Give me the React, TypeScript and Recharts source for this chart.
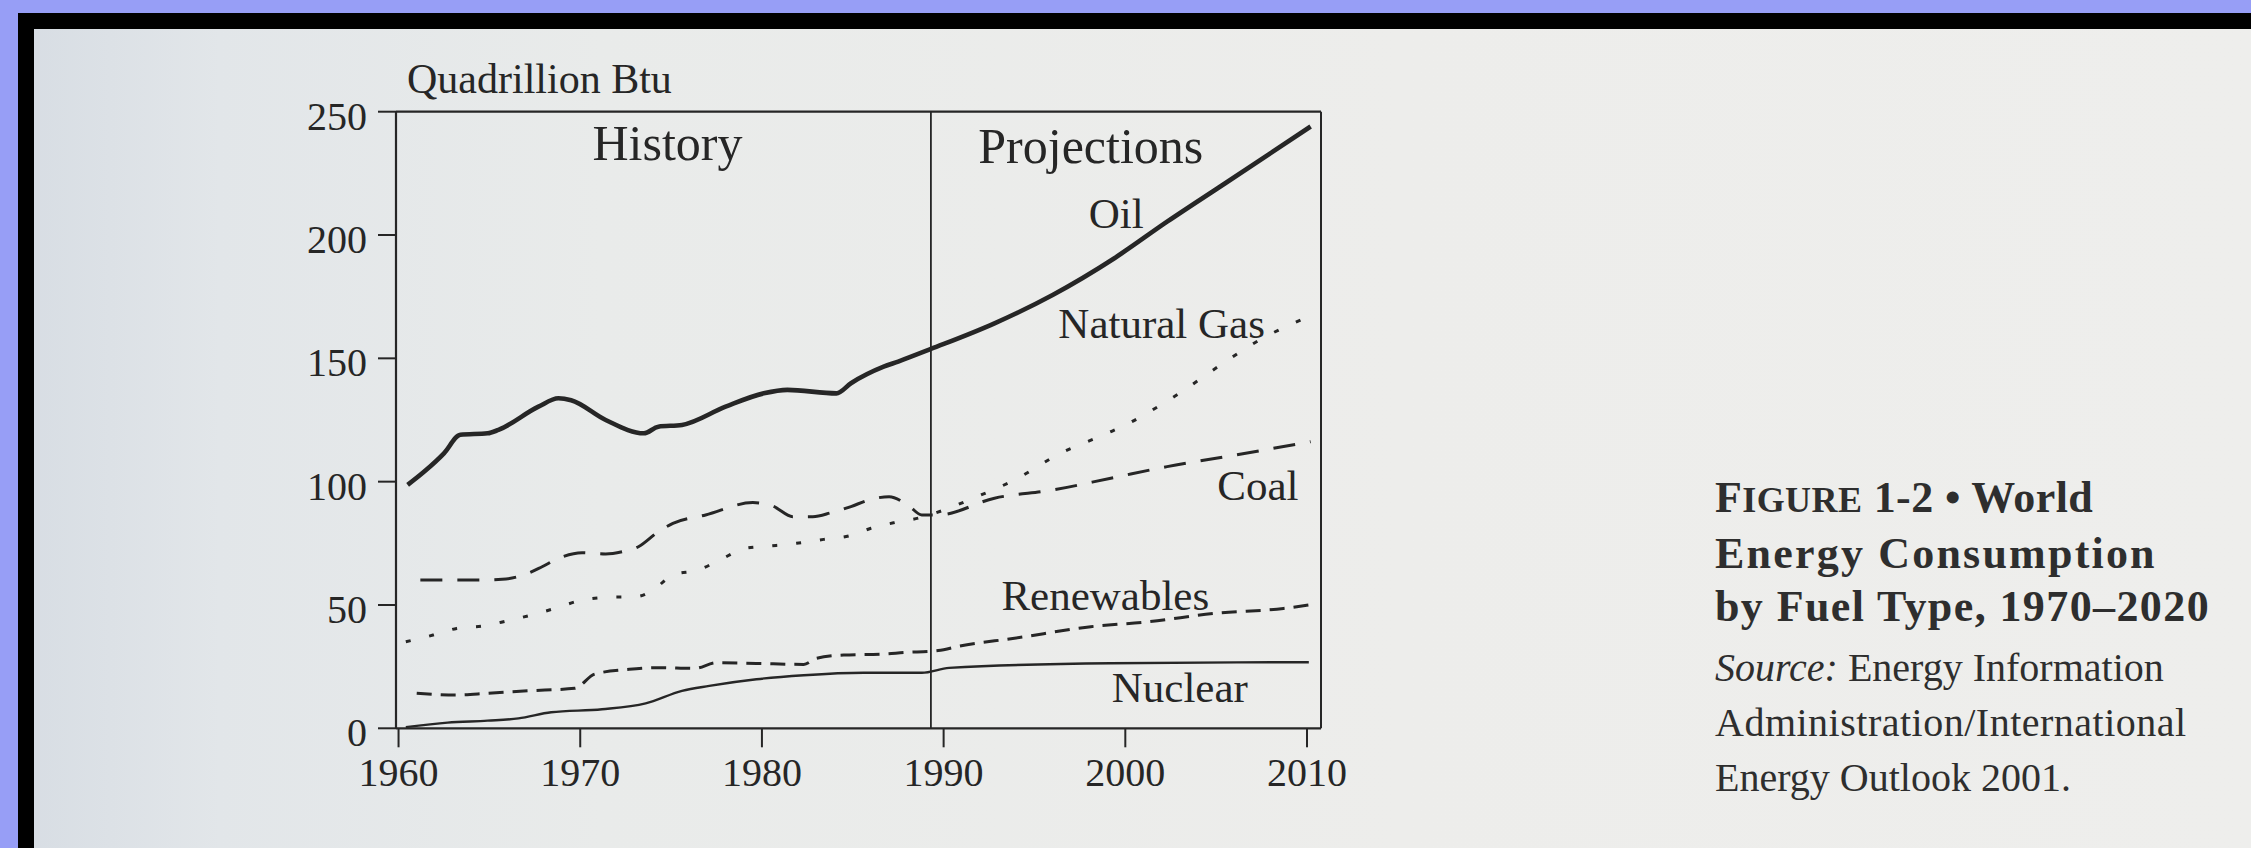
import React from 'react';
import { LineChart, Line, XAxis, YAxis, ReferenceLine, ReferenceDot } from 'recharts';

const SERIF = '"Liberation Serif", "Times New Roman", serif';
const INK = '#262626';

// axes
const YEAR_TICKS = [1960, 1970, 1980, 1990, 2000, 2010];
const VALUE_TICKS = [0, 50, 100, 150, 200, 250];
const YEAR_DOMAIN = [1959.86, 2010.77];
const VALUE_MAX = 250;
const SPLIT_YEAR = 1989.3; // history | projections

// [year, quadrillion Btu]
const OIL = [
  [1960.5, 98.7], [1961.4, 104], [1962.5, 111.5], [1963.4, 119], [1964.9, 119.6],
  [1965.5, 121], [1967.7, 130.4], [1968.8, 133.8], [1969.5, 133], [1971.4, 125],
  [1973.5, 119.6], [1974.3, 122.3], [1975.6, 123], [1978, 130.4], [1980.1, 135.8],
  [1981.4, 137.2], [1984.1, 135.8], [1984.9, 139.9], [1986.7, 146.6], [1987.5, 148.7],
  [1989.3, 153.8], [1992.8, 164.2], [1996, 175.7], [1999.4, 190.6], [2002.3, 205.4],
  [2005.5, 221], [2010.2, 244],
];
const NATURAL_GAS = [
  [1960.4, 35.1], [1961.9, 37.8], [1963.2, 40.5], [1964.7, 41.5], [1966, 43.6],
  [1967.3, 45.9], [1968.6, 48.6], [1970.1, 52], [1971.4, 53.1], [1973.1, 53.4],
  [1974, 56], [1975.1, 62.2], [1976.5, 64.2], [1977.7, 68.3], [1979.1, 73],
  [1980.4, 73.9], [1981.9, 75], [1983.4, 76.6], [1984.8, 78], [1986, 81.1],
  [1987.3, 83.4], [1988.6, 85.2], [1990.2, 89], [1991.4, 92.6], [1993.9, 100.7],
  [1996.4, 111.4], [1999, 119.6], [2000.2, 123.7], [2001.5, 129.1], [2002.7, 134.5],
  [2005.1, 146.6], [2007.4, 157.5], [2010.1, 166.9],
];
const COAL = [
  [1961.2, 60.1], [1964.5, 60.1], [1965.7, 60.4], [1966.9, 62.2], [1967.9, 65.5],
  [1968.8, 68.9], [1970.1, 71.2], [1971.4, 70.7], [1972.3, 71.6], [1973.2, 73.6],
  [1974.3, 79.7], [1975.1, 83.1], [1976.9, 86.5], [1979.5, 91.5], [1980.6, 90.1],
  [1981.7, 85.8], [1982.8, 85.8], [1983.8, 87.4], [1984.9, 89.9], [1985.9, 92.6],
  [1987, 93.9], [1988.1, 90.1], [1988.8, 86.5], [1989.7, 86.5], [1992.8, 93.3],
  [1996, 96.6], [1999.2, 101.4], [2002.3, 106.1], [2005.5, 110.1], [2010.2, 116.2],
];
const RENEWABLES = [
  [1961, 14.2], [1963.2, 13.5], [1964.9, 14.2], [1967.1, 15.2], [1969.7, 16.2],
  [1970.8, 22], [1972.7, 23.9], [1974.3, 24.6], [1976.3, 24.3], [1977.5, 26.6],
  [1979.7, 26.3], [1982.3, 25.9], [1983, 28.4], [1984.5, 29.7], [1986.7, 30.1],
  [1987.8, 30.7], [1989.7, 31.5], [1990.9, 33.4], [1993.9, 36.5], [1998.1, 41.2],
  [2001.3, 43.2], [2004.9, 46.6], [2008.7, 48.6], [2010.1, 50],
];
const NUCLEAR = [
  [1960.4, 0.5], [1962.7, 2.3], [1964.9, 3.1], [1966.6, 4], [1968.4, 6.5],
  [1971.2, 7.7], [1973.6, 10.1], [1975.6, 15.2], [1977.1, 17.2], [1979.7, 19.9],
  [1982.3, 21.5], [1985.6, 22.5], [1988.8, 22.5], [1990.3, 24.5], [1999.2, 26.4],
  [2010.1, 26.8],
];

const toPoints = (rows: number[][]) => rows.map(([year, value]) => ({ year, value }));

const SERIES = [
  { name: 'Oil', rows: OIL, width: 4.6, dash: undefined },
  { name: 'Natural Gas', rows: NATURAL_GAS, width: 3, dash: '5 19' },
  { name: 'Coal', rows: COAL, width: 3, dash: '22 15' },
  { name: 'Renewables', rows: RENEWABLES, width: 3, dash: '15 9' },
  { name: 'Nuclear', rows: NUCLEAR, width: 2.4, dash: undefined },
];

// text written inside the plot, anchored at (year, value) on its baseline
const ANNOTATIONS = [
  { text: 'History', year: 1974.8, value: 230.5, size: 50 },
  { text: 'Projections', year: 1998.1, value: 229.3, size: 50 },
  { text: 'Oil', year: 1999.5, value: 203, size: 43 },
  { text: 'Natural Gas', year: 2002.0, value: 158.3, size: 43 },
  { text: 'Coal', year: 2007.3, value: 92.6, size: 43 },
  { text: 'Renewables', year: 1998.9, value: 48, size: 43 },
  { text: 'Nuclear', year: 2003, value: 10.8, size: 43 },
];

const PlotText = (props: any) => {
  const vb = props.viewBox || {};
  return (
    <text x={vb.x} y={vb.y} textAnchor="middle" fill={INK}
      style={{ fontFamily: SERIF, fontSize: props.size }}>
      {props.text}
    </text>
  );
};

const YearTick = ({ x, y, payload }: any) => (
  <text x={x} y={y} dy={38.5} textAnchor="middle" fill={INK}
    style={{ fontFamily: SERIF, fontSize: 40 }}>
    {payload.value}
  </text>
);

const ValueTick = ({ x, y, payload }: any) => (
  <text x={x - 11} y={y} dy={18} textAnchor="end" fill={INK}
    style={{ fontFamily: SERIF, fontSize: 40 }}>
    {payload.value}
  </text>
);

const UnitLabel = (props: any) => {
  const vb = props.viewBox || {};
  return (
    <text x={vb.x + vb.width + 11} y={vb.y - 18.7} fill={INK}
      style={{ fontFamily: SERIF, fontSize: 42 }}>
      Quadrillion Btu
    </text>
  );
};

const Caption = () => (
  <div style={{ position: 'absolute', left: 1715, top: 471, color: '#2e2e2e', fontFamily: SERIF }}>
    <div style={{ fontWeight: 700, fontSize: 44, letterSpacing: 1.4, lineHeight: '53px' }}>
      <div style={{ letterSpacing: 0.4 }}>F<span style={{ fontSize: 36 }}>IGURE</span> 1-2 • World</div>
      <div style={{ letterSpacing: 2.2 }}>Energy Consumption</div>
      <div>by Fuel Type, 1970–2020</div>
    </div>
    <div style={{ fontSize: 40, lineHeight: '55px', marginTop: 7 }}>
      <div><i>Source:</i> Energy Information</div>
      <div style={{ letterSpacing: 0.5 }}>Administration/International</div>
      <div>Energy Outlook 2001.</div>
    </div>
  </div>
);

export default function App() {
  return (
    <div style={{
      position: 'absolute', left: 0, top: 0, width: 2251, height: 848, overflow: 'hidden',
      background: 'linear-gradient(to right, #d6dce3 0px, #e2e6e9 220px, #e9ebea 600px, #ededeb 1400px, #eeeeec 2251px)',
    }}>
      {/* scanner frame */}
      <div style={{ position: 'absolute', left: 0, top: 0, width: 2251, height: 13, background: '#979ef6' }} />
      <div style={{ position: 'absolute', left: 0, top: 0, width: 18, height: 848, background: '#979ef6' }} />
      <div style={{ position: 'absolute', left: 18, top: 13, width: 2233, height: 16, background: '#000' }} />
      <div style={{ position: 'absolute', left: 18, top: 13, width: 16, height: 835, background: '#000' }} />

      <div style={{ position: 'absolute', left: 0, top: 0 }}>
        <LineChart width={2251} height={848}
          margin={{ top: 111.7, right: 930, bottom: 59.7, left: 316 }}>
          <XAxis dataKey="year" type="number" domain={YEAR_DOMAIN} ticks={YEAR_TICKS}
            allowDataOverflow height={60} tickSize={19} tickMargin={0}
            axisLine={{ stroke: INK, strokeWidth: 2.2 }} tickLine={{ stroke: INK, strokeWidth: 2 }}
            tick={<YearTick />} />
          <YAxis type="number" domain={[0, VALUE_MAX]} ticks={VALUE_TICKS} width={80}
            tickSize={18} tickMargin={0} allowDataOverflow
            axisLine={{ stroke: INK, strokeWidth: 2.2 }} tickLine={{ stroke: INK, strokeWidth: 2 }}
            tick={<ValueTick />} label={<UnitLabel />} />

          {/* frame: top and right sides */}
          <ReferenceLine y={VALUE_MAX} stroke={INK} strokeWidth={2.2} ifOverflow="visible" />
          <ReferenceLine x={YEAR_DOMAIN[1]} stroke={INK} strokeWidth={2} ifOverflow="visible" />
          <ReferenceLine x={SPLIT_YEAR} stroke={INK} strokeWidth={1.8} />

          {SERIES.map(s => (
            <Line key={s.name} data={toPoints(s.rows)} dataKey="value"
              name={s.name} type="monotone" stroke={INK} strokeWidth={s.width}
              strokeDasharray={s.dash} dot={false} activeDot={false} isAnimationActive={false} />
          ))}

          {ANNOTATIONS.map(a => (
            <ReferenceDot key={a.text} x={a.year} y={a.value} r={0}
              fill="none" stroke="none" label={<PlotText text={a.text} size={a.size} />} />
          ))}
        </LineChart>
      </div>

      <Caption />
    </div>
  );
}
